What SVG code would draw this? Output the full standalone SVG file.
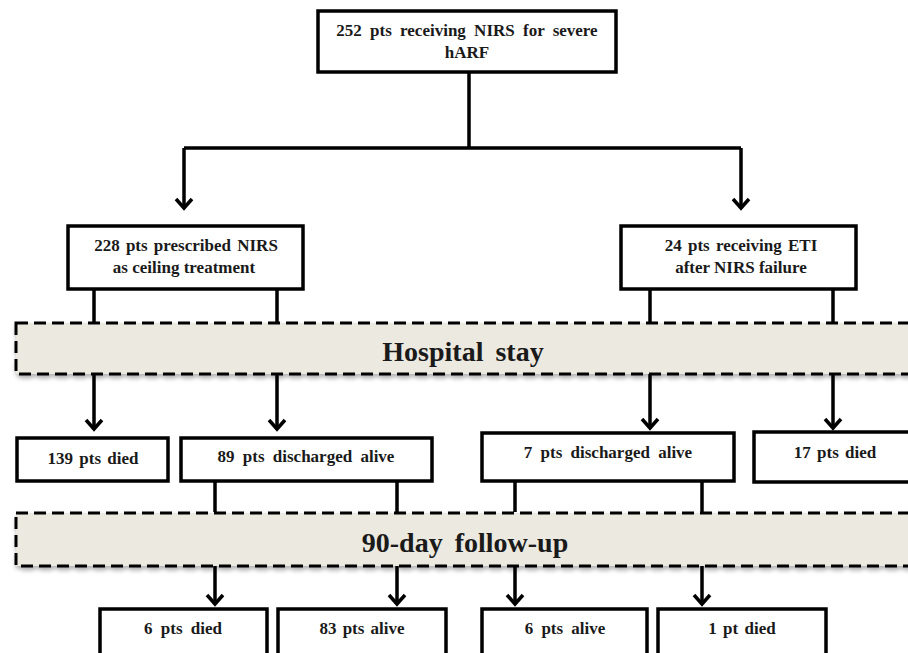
<svg xmlns="http://www.w3.org/2000/svg" width="908" height="653" viewBox="0 0 908 653">
<style>
.box{fill:#fff;stroke:#000;stroke-width:3.5}
.band{fill:#ECE9E0;stroke:#000;stroke-width:3;stroke-dasharray:12 6}
text{font-family:'Liberation Serif','DejaVu Serif',Times,serif;font-weight:bold;fill:#1a1a1a;text-anchor:middle}
.t{font-size:17px;word-spacing:2px}
.big{font-size:28px;word-spacing:5px}
.ln{fill:none;stroke:#000;stroke-width:3.5}
.ar{fill:none;stroke:#000;stroke-width:3.5;marker-end:url(#ah)}
</style>
<defs>
<marker id="ah" markerUnits="userSpaceOnUse" markerWidth="26" markerHeight="26" viewBox="-13 -13 26 26" refX="0" refY="0" orient="auto">
<path d="M-9,-8 L0,0 L-9,8" fill="none" stroke="#000" stroke-width="3.5" stroke-linejoin="miter"/>
</marker>
<filter id="sh" x="-5%" y="-30%" width="110%" height="170%">
<feDropShadow dx="1" dy="3" stdDeviation="2" flood-color="#000" flood-opacity="0.3"/>
</filter>
</defs>
<rect width="908" height="653" fill="#fff"/>

<g id="band-hospital">
<rect class="band" x="16" y="323" width="900" height="51" filter="url(#sh)"/>
<text class="big" x="463" y="361" font-family="Liberation Serif, serif">Hospital stay</text>
</g>
<g id="band-followup">
<rect class="band" x="16" y="513" width="900" height="53" filter="url(#sh)"/>
<text class="big" x="465" y="552">90-day follow-up</text>
</g>

<g id="connectors">
<path class="ln" d="M469,72 V148 M184,148 H741"/>
<path class="ar" d="M184,148 V208"/>
<path class="ar" d="M741,148 V208"/>
<path class="ln" d="M94,289 V322 M277,289 V322 M650,289 V322 M833,289 V322"/>
<path class="ar" d="M94,374 V429"/>
<path class="ar" d="M277,374 V429"/>
<path class="ar" d="M650,374 V428"/>
<path class="ar" d="M833,374 V428"/>
<path class="ln" d="M215,481 V512 M397,481 V512 M515,481 V512 M702,481 V512"/>
<path class="ar" d="M215,566 V604"/>
<path class="ar" d="M397,566 V604"/>
<path class="ar" d="M515,566 V604"/>
<path class="ar" d="M702,566 V604"/>
</g>

<g id="n-start">
<rect class="box" x="318" y="11" width="298" height="61"/>
<text class="t" x="467" y="36" style="word-spacing:4px">252 pts receiving NIRS for severe</text>
<text class="t" x="467" y="58">hARF</text>
</g>
<g id="n-ceiling">
<rect class="box" x="68" y="226" width="235" height="63"/>
<text class="t" x="186" y="251">228 pts prescribed  NIRS</text>
<text class="t" x="184" y="273" style="word-spacing:0px">as ceiling treatment</text>
</g>
<g id="n-eti">
<rect class="box" x="621" y="226" width="235" height="63"/>
<text class="t" x="741" y="251">24 pts receiving ETI</text>
<text class="t" x="741" y="273" style="word-spacing:0px">after NIRS failure</text>
</g>
<g id="n-139died">
<rect class="box" x="17" y="438" width="151" height="43"/>
<text class="t" x="93" y="464">139 pts died</text>
</g>
<g id="n-89alive">
<rect class="box" x="181" y="438" width="251" height="43"/>
<text class="t" x="306" y="462" style="word-spacing:4px">89 pts discharged alive</text>
</g>
<g id="n-7alive">
<rect class="box" x="482" y="433" width="252" height="48"/>
<text class="t" x="608" y="458" style="word-spacing:4px">7 pts discharged alive</text>
</g>
<g id="n-17died">
<rect class="box" x="754" y="432" width="164" height="50"/>
<text class="t" x="835" y="458">17 pts died</text>
</g>
<g id="n-6died">
<rect class="box" x="100" y="609" width="167" height="52"/>
<text class="t" x="183" y="634" style="word-spacing:4px">6 pts died</text>
</g>
<g id="n-83alive">
<rect class="box" x="278" y="609" width="168" height="52"/>
<text class="t" x="362" y="634">83 pts alive</text>
</g>
<g id="n-6alive">
<rect class="box" x="482" y="609" width="165" height="52"/>
<text class="t" x="565" y="634" style="word-spacing:4px">6 pts alive</text>
</g>
<g id="n-1died">
<rect class="box" x="658" y="609" width="168" height="52"/>
<text class="t" x="742" y="634">1 pt died</text>
</g>
</svg>
